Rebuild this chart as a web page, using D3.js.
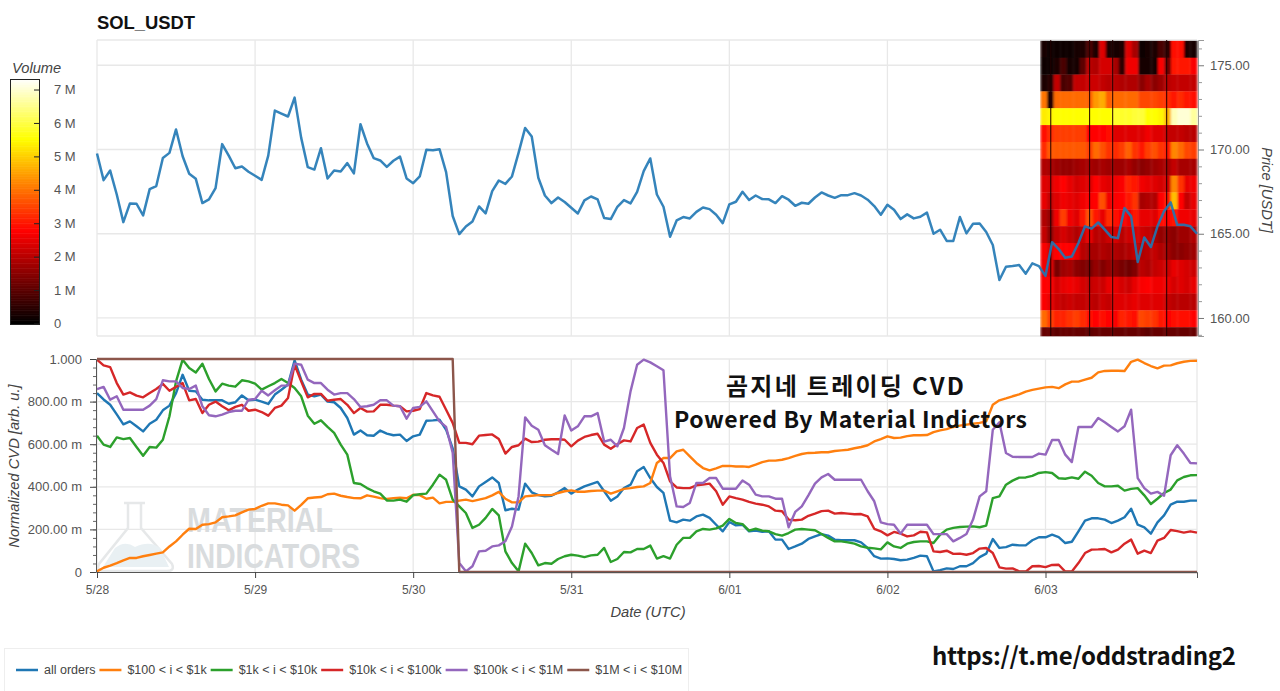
<!DOCTYPE html>
<meta charset="utf-8">
<style>
html, body { margin: 0; padding: 0; background: #fff; }
text { font-family: "Liberation Sans", Arial, sans-serif; }
.tick text { fill: #555; font-size: 13px; }
.label { fill: #444; font-size: 14.7px; font-style: italic; }
.grid line { stroke: #e8e8e8; stroke-width: 1.3; }
.note { font-family: "Noto Sans CJK KR", sans-serif; font-weight: 700; fill: #111; }
.mark { font-family: "Liberation Sans", sans-serif; font-weight: 700; fill: #d9dcde; font-size: 35px; }
</style>
<svg width="1280" height="691"></svg>
<script src="https://d3js.org/d3.v7.min.js"></script>
<script>

var dateLabels = ["5/28", "5/29", "5/30", "5/31", "6/01", "6/02", "6/03"];
var dateHours = [0, 24, 48, 72, 96, 120, 144];
var priceTicks = [160, 165, 170, 175];
var priceMinor = [159, 161, 162, 163, 164, 166, 167, 168, 169, 171, 172, 173, 174, 176];
var cvdTicks = [0, 0.2, 0.4, 0.6, 0.8, 1];
var cvdLabels = ["0", "200.00 m", "400.00 m", "600.00 m", "800.00 m", "1.000"];
var volumeTicks = [0, 1, 2, 3, 4, 5, 6, 7];
var volumeLabels = ["0", "1 M", "2 M", "3 M", "4 M", "5 M", "6 M", "7 M"];

var price = [
  169.76,168.18,168.75,167.33,165.69,166.8,166.78,166.09,167.65,167.83,169.5,169.8,
  171.19,169.6,168.56,168.26,166.82,167.04,167.71,170.32,169.64,168.89,168.99,168.68,
  168.44,168.2,169.64,172.31,172.13,171.96,173.08,170.69,168.95,168.81,170.08,168.28,
  168.75,168.7,169.19,168.58,171.5,170.36,169.49,169.35,168.97,169.33,169.58,168.28,
  168.0,168.4,169.98,169.96,170.02,168.66,166.05,164.98,165.43,165.73,166.62,166.21,
  167.53,168.16,167.96,168.4,169.8,171.28,170.77,168.32,167.27,166.82,167.15,166.88,
  166.54,166.2,166.98,167.21,167.04,165.93,165.87,166.6,167.0,166.8,167.49,168.72,
  169.47,167.33,166.6,164.82,165.79,165.99,165.91,166.3,166.56,166.46,166.13,165.63,
  166.74,166.9,167.49,167.0,167.27,167.06,167.04,166.82,167.23,167.02,166.66,166.84,
  166.78,167.15,167.45,167.27,167.13,167.29,167.29,167.41,167.27,167.02,166.64,166.13,
  166.72,166.42,165.87,166.15,165.91,166.01,166.25,165.0,165.24,164.57,164.57,165.99,
  165.02,165.59,165.61,165.1,164.33,162.25,163.04,163.08,163.14,162.63,163.24,163.08,
  162.5,164.5,164.09,163.57,163.65,164.45,165.44,165.3,165.67,165.24,164.8,164.74,
  166.52,166.03,163.32,164.78,164.21,165.44,166.33,166.86,165.53,165.53,165.44,165.0
];

var allOrders = [
  .84,.81,.785,.74,.693,.707,.684,.66,.696,.715,.759,.781,
  .84,.926,.851,.848,.809,.806,.806,.806,.79,.797,.829,.806,
  .809,.80,.789,.833,.856,.88,.994,.903,.833,.825,.833,.80,
  .797,.77,.723,.645,.664,.642,.64,.664,.65,.642,.645,.615,
  .637,.645,.71,.712,.715,.668,.58,.402,.387,.355,.402,.423,
  .444,.418,.29,.297,.293,.415,.374,.361,.355,.358,.374,.394,
  .368,.387,.402,.413,.423,.379,.335,.355,.394,.41,.473,.493,
  .441,.399,.371,.241,.233,.246,.241,.261,.269,.254,.222,.191,
  .235,.219,.222,.191,.194,.189,.191,.152,.152,.108,.12,.133,
  .155,.167,.178,.171,.152,.149,.149,.149,.139,.113,.074,.063,
  .064,.061,.055,.058,.066,.077,.074,.003,.009,.017,.014,.027,
  .027,.042,.07,.086,.155,.113,.117,.128,.125,.125,.149,.163,
  .163,.175,.164,.136,.142,.191,.241,.252,.252,.246,.23,.241,
  .257,.297,.222,.21,.18,.233,.266,.316,.33,.33,.335,.335
];
var orders100 = [
  .003,.02,.03,.042,.055,.066,.066,.074,.08,.086,.092,.12,
  .144,.175,.203,.202,.222,.225,.233,.257,.261,.266,.28,.293,
  .296,.311,.322,.322,.316,.313,.288,.315,.346,.35,.352,.365,
  .368,.358,.352,.347,.346,.36,.354,.347,.343,.347,.349,.346,
  .363,.361,.344,.349,.322,.329,.33,.335,.34,.333,.34,.347,
  .36,.376,.344,.327,.327,.355,.358,.361,.361,.361,.371,.379,
  .383,.377,.377,.38,.382,.382,.368,.379,.39,.394,.399,.402,
  .418,.512,.535,.535,.566,.574,.543,.512,.488,.477,.487,.498,
  .498,.495,.496,.493,.504,.516,.523,.523,.527,.535,.545,.554,
  .559,.56,.562,.562,.568,.571,.574,.581,.587,.595,.613,.624,
  .637,.629,.631,.638,.642,.642,.643,.657,.665,.671,.681,.687,
  .692,.696,.70,.707,.785,.806,.815,.825,.834,.847,.855,.861,
  .867,.869,.863,.881,.894,.894,.903,.912,.937,.944,.945,.945,
  .944,.987,.997,.981,.967,.956,.969,.97,.98,.987,.991,.992
];
var orders1k = [
  .64,.598,.587,.632,.624,.629,.587,.546,.587,.584,.621,.731,
  .895,.997,.958,.937,.978,.906,.848,.884,.875,.87,.90,.895,
  .884,.856,.872,.887,.906,.887,.864,.825,.734,.696,.712,.681,
  .653,.598,.551,.418,.413,.394,.379,.368,.336,.335,.34,.33,
  .361,.365,.368,.41,.457,.433,.34,.308,.277,.207,.222,.254,
  .296,.266,.097,.042,.003,.133,.089,.031,.042,.039,.061,.074,
  .081,.077,.07,.078,.081,.113,.047,.061,.094,.092,.108,.108,
  .124,.063,.074,.063,.128,.16,.16,.191,.202,.199,.205,.218,
  .249,.23,.225,.194,.203,.194,.191,.178,.171,.183,.199,.202,
  .199,.196,.178,.16,.144,.144,.139,.133,.12,.114,.111,.106,
  .139,.12,.113,.133,.141,.144,.144,.136,.175,.199,.207,.211,
  .213,.214,.21,.218,.347,.355,.41,.429,.443,.444,.451,.465,
  .469,.465,.44,.438,.444,.438,.471,.452,.418,.402,.402,.405,
  .382,.39,.394,.36,.319,.344,.371,.387,.43,.446,.454,.455
];
var orders10k = [
  .997,.97,.962,.887,.833,.843,.828,.82,.84,.859,.883,.851,
  .869,.887,.806,.812,.746,.785,.80,.778,.759,.775,.785,.757,
  .762,.751,.734,.77,.781,.817,.973,.895,.82,.836,.836,.804,
  .809,.812,.785,.746,.77,.753,.754,.785,.785,.781,.778,.754,
  .757,.765,.84,.829,.823,.762,.70,.606,.606,.60,.64,.643,
  .646,.624,.556,.587,.595,.626,.61,.612,.621,.623,.623,.621,
  .59,.617,.634,.643,.649,.598,.579,.60,.618,.613,.676,.692,
  .606,.551,.512,.426,.397,.394,.394,.407,.41,.415,.379,.316,
  .355,.347,.34,.329,.321,.316,.308,.288,.285,.246,.243,.246,
  .264,.274,.286,.288,.274,.277,.274,.271,.272,.261,.203,.191,
  .172,.188,.18,.167,.172,.189,.186,.097,.094,.10,.085,.086,
  .081,.089,.11,.113,.089,.022,.016,.017,.003,.002,.027,.028,
  .023,.033,.034,.002,.002,.042,.089,.105,.106,.108,.092,.105,
  .133,.152,.086,.10,.089,.147,.16,.197,.192,.185,.191,.185
];
var orders100k = [
  .859,.869,.809,.825,.762,.762,.762,.762,.781,.812,.90,.895,
  .895,.864,.859,.875,.778,.736,.731,.739,.751,.757,.757,.809,
  .812,.851,.829,.853,.875,.876,.978,.973,.903,.887,.887,.856,
  .833,.84,.84,.812,.775,.778,.785,.806,.806,.781,.778,.72,
  .77,.775,.801,.754,.707,.681,.56,.042,.003,.027,.097,.10,
  .12,.125,.144,.214,.355,.726,.687,.668,.595,.574,.554,.735,
  .664,.684,.731,.731,.746,.612,.621,.59,.676,.848,.973,.997,
  .984,.966,.947,.449,.308,.305,.324,.418,.418,.441,.441,.391,
  .391,.391,.43,.41,.363,.355,.355,.344,.344,.21,.282,.308,
  .36,.415,.444,.46,.433,.433,.433,.433,.433,.379,.332,.233,
  .225,.222,.18,.222,.222,.222,.222,.178,.178,.178,.144,.16,
  .178,.246,.355,.379,.668,.703,.559,.541,.54,.54,.54,.556,
  .551,.62,.62,.551,.516,.681,.681,.681,.723,.703,.681,.66,
  .684,.762,.441,.394,.368,.376,.358,.548,.595,.556,.512,.51
];
var orders1m = [
  1,1,1,1,1,1,1,1,1,1,1,1,
  1,1,1,1,1,1,1,1,1,1,1,1,
  1,1,1,1,1,1,1,1,1,1,1,1,
  1,1,1,1,1,1,1,1,1,1,1,1,
  1,1,1,1,1,1,1,0,0,0,0,0,
  0,0,0,0,0,0,0,0,0,0,0,0,
  0,0,0,0,0,0,0,0,0,0,0,0,
  0,0,0,0,0,0,0,0,0,0,0,0,
  0,0,0,0,0,0,0,0,0,0,0,0,
  0,0,0,0,0,0,0,0,0,0,0,0,
  0,0,0,0,0,0,0,0,0,0,0,0,
  0,0,0,0,0,0,0,0,0,0,0,0,
  0,0,0,0,0,0,0,0,0,0,0,0,
  0,0,0,0,0,0,0,0,0,0,0,0
];

var seriesNames = ["all orders", "$100 < i < $1k", "$1k < i < $10k", "$10k < i < $100k", "$100k < i < $1M", "$1M < i < $10M"];
var seriesColors = ["#1f77b4", "#ff7f0e", "#2ca02c", "#d62728", "#9467bd", "#8c564b"];
var seriesValues = [allOrders, orders100, orders1k, orders10k, orders100k, orders1m];

// volume per price level (top row first), one value per hour, in millions
var heatPrices = [176,175,174,173,172,171,170,169,168,167,166,165,164,163,162,161,160,159];
var heatColumns = d3.range(24);
var vol176 = [.2,.1,.1,.1,.1,.2,.3,.8,.3,2.4,.3,.2,.3,2.4,1.8,.1,.2,.3,.8,.5,2.9,2.9,.3,.2];
var vol175 = [.1,.1,.3,.8,.2,.2,1.0,2.0,1.9,2.3,2.3,1.8,.5,2.6,2.6,.2,.2,.2,2.7,1.2,3.0,3.0,3.0,2.7];
var vol174 = [.3,.4,2.1,.8,.9,2.1,2.1,2.2,2.2,2.1,2.0,2.0,1.9,1.9,1.9,1.5,1.8,1.5,1.7,2.0,2.1,2.1,2.1,2.1];
var vol173 = [4.0,.3,3.9,3.9,3.9,3.9,3.9,3.8,4.4,4.6,3.8,3.9,3.9,3.9,3.9,3.5,3.5,3.5,3.4,3.2,3.0,3.2,3.0,2.9];
var vol172 = [5.3,5.4,5.5,5.5,5.5,5.5,5.5,5.5,5.5,5.5,5.5,5.8,5.8,5.8,5.9,5.9,5.5,5.5,5.4,4.7,6.8,7.0,7.0,6.6];
var vol171 = [2.9,3.2,3.4,3.4,3.4,3.4,3.4,2.8,2.8,2.8,2.9,2.4,2.4,2.4,2.4,2.4,2.6,2.4,2.4,2.1,2.1,2.1,2.0,2.0];
var vol170 = [3.2,3.7,3.7,3.7,3.7,3.7,3.7,3.4,3.9,3.6,3.3,3.2,3.4,3.8,3.3,3.0,3.4,3.6,3.3,3.0,4.2,3.9,3.5,3.4];
var vol169 = [1.9,1.8,1.7,1.6,1.6,1.7,1.8,1.8,1.7,1.8,1.7,1.7,1.7,1.8,1.6,1.5,1.6,1.7,1.8,1.8,2.1,1.8,1.8,1.8];
var vol168 = [2.4,2.3,2.6,2.8,2.5,2.3,2.4,2.4,2.8,2.5,2.4,2.6,2.7,3.1,3.0,2.6,2.5,2.4,2.3,2.3,4.2,3.3,2.5,2.6];
var vol167 = [2.5,2.1,2.4,2.6,2.5,2.4,2.6,2.7,2.8,3.6,2.6,2.7,2.8,3.0,3.3,1.8,1.9,1.9,2.8,3.0,4.8,2.8,2.1,2.5];
var vol166 = [1.9,1.6,2.6,3.4,2.6,2.4,3.0,3.6,3.0,2.5,3.2,2.9,2.7,2.6,3.0,2.5,2.5,2.4,2.9,2.8,3.0,2.6,2.6,2.5];
var vol165 = [2.1,1.5,2.1,2.3,2.1,1.9,2.2,2.5,2.0,2.0,2.2,2.3,2.0,2.2,2.3,2.2,2.1,1.8,1.6,1.6,1.5,1.7,1.7,1.9];
var vol164 = [2.7,2.3,2.8,2.8,2.8,2.5,2.0,1.8,1.8,1.9,1.8,1.9,1.8,1.9,2.1,1.9,2.0,2.1,1.9,1.7,1.5,1.5,1.6,1.7];
var vol163 = [2.6,2.4,1.3,1.7,1.8,1.5,1.4,1.3,1.6,1.4,1.6,1.5,1.3,1.2,1.4,2.0,1.9,2.1,2.2,2.2,2.5,2.4,2.3,2.2];
var vol162 = [2.8,2.7,2.3,2.5,2.6,2.5,2.3,2.1,2.2,2.2,2.5,2.5,2.3,2.2,2.5,2.7,2.8,2.6,2.6,2.5,2.3,2.4,2.3,2.5];
var vol161 = [2.7,2.5,2.2,2.1,2.2,2.1,2.1,2.1,2.0,2.2,2.1,2.4,2.4,2.4,2.5,2.4,2.4,2.4,2.4,2.1,2.0,2.0,2.0,2.0];
var vol160 = [3.9,3.4,3.1,3.1,3.3,3.4,3.2,2.9,2.8,2.9,2.8,2.7,3.1,3.0,2.9,3.5,3.4,3.3,3.0,2.8,2.9,2.9,2.9,2.8];
var vol159 = [1.1,1.1,1.0,1.1,1.1,1.1,1.1,1.0,1.1,1.1,1.1,1.1,1.1,1.1,1.1,1.1,1.0,1.1,1.1,1.1,1.1,1.1,1.1,1.1];
var heatRows = [vol176,vol175,vol174,vol173,vol172,vol171,vol170,vol169,vol168,vol167,vol166,vol165,vol164,vol163,vol162,vol161,vol160,vol159];
// hours where the volume profile has an empty slice
var gapHours = [144.8, 150.7, 154.2, 162.4];

var svg = d3.select("svg");

var x = d3.scaleLinear().domain([0, 167]).range([97, 1197]);
var yPrice = d3.scaleLinear().domain([158.93, 176.5]).range([336, 40]);
var yCvd = d3.scaleLinear().domain([0, 1]).range([572, 359]);
var heat = d3.scaleLinear().domain([0, 2.75, 5.5, 7.3]).range(["#000000", "#ff0000", "#ffff00", "#ffffff"]);
var heatX = d3.scaleBand().domain(heatColumns).range([x(143.25), x(167)]);

// the picture of the volume profile is soft, so blur the cells a little
var defs = svg.append("defs");
defs.append("filter").attr("id", "soft").attr("x", "0").attr("y", "0").attr("width", "1").attr("height", "1")
  .append("feGaussianBlur").attr("stdDeviation", "0.9 0.35");
defs.append("clipPath").attr("id", "heatClip").append("rect")
    .attr("x", x(143.25)).attr("y", 40).attr("width", x(167) - x(143.25)).attr("height", 296);

function frame(y0, y1) {
  var g = svg.append("g").attr("class", "grid");
  g.selectAll("line.v").data(dateHours).enter().append("line").attr("class", "v")
      .attr("x1", function(d) { return x(d); }).attr("x2", function(d) { return x(d); })
      .attr("y1", y0).attr("y2", y1);
  g.append("line").attr("x1", x(0)).attr("x2", x(167)).attr("y1", y0).attr("y2", y0);
  g.append("line").attr("x1", x(167)).attr("x2", x(167)).attr("y1", y0).attr("y2", y1);
  return g;
}

// ---- top plot
var topGrid = frame(40, 336);
topGrid.append("line").attr("x1", x(0)).attr("x2", x(167)).attr("y1", 336).attr("y2", 336);
topGrid.selectAll("line.h").data(priceTicks).enter().append("line").attr("class", "h")
    .attr("x1", x(0)).attr("x2", x(167))
    .attr("y1", function(d) { return yPrice(d); }).attr("y2", function(d) { return yPrice(d); });

var heatGroup = svg.append("g").attr("filter", "url(#soft)");
heatRows.forEach(function(row, r) {
  var top = yPrice(heatPrices[r] + 0.45);
  var bottom = Math.min(yPrice(heatPrices[r] - 0.55), 336);
  heatGroup.append("g").selectAll("rect").data(row).enter().append("rect")
      .attr("x", function(d, i) { return heatX(i); })
      .attr("width", heatX.bandwidth() + 0.3)
      .attr("y", top)
      .attr("height", bottom - top + 0.3)
      .attr("fill", function(d) { return heat(d); });
});
svg.append("g").selectAll("line").data(gapHours).enter().append("line")
    .attr("x1", function(d) { return x(d); }).attr("x2", function(d) { return x(d); })
    .attr("y1", 40).attr("y2", 336)
    .attr("stroke", "#200").attr("stroke-width", 1);

svg.append("path").datum(price)
    .attr("fill", "none").attr("stroke", "#1f77b4").attr("stroke-width", 2.5).attr("stroke-opacity", 0.9)
    .attr("stroke-linejoin", "round")
    .attr("d", d3.line().x(function(d, i) { return x(i); }).y(function(d) { return yPrice(d); }));

var priceAxis = svg.append("g").attr("transform", "translate(1198,0)")
    .call(d3.axisRight(yPrice).tickValues(priceTicks).tickFormat(d3.format(".2f")).tickSize(6).tickPadding(6));
priceAxis.select(".domain").attr("stroke", "#999");
priceAxis.selectAll(".tick line").attr("stroke", "#777");
var priceMinorAxis = svg.append("g").attr("transform", "translate(1198,0)")
    .call(d3.axisRight(yPrice).tickValues(priceMinor).tickFormat("").tickSize(4));
priceMinorAxis.select(".domain").remove();
priceMinorAxis.selectAll(".tick line").attr("stroke", "#999");

svg.append("text").attr("class", "label")
    .attr("transform", "translate(1262,190) rotate(90)")
    .attr("text-anchor", "middle").text("Price [USDT]");

svg.append("text").attr("x", 97).attr("y", 29)
    .style("font-weight", "bold").style("font-size", "18.4px").attr("fill", "#111").text("SOL_USDT");

// ---- colour bar
var yVol = d3.scaleLinear().domain([0, 7.3]).range([323.5, 79.5]);
var barSteps = d3.range(0, 7.3, 0.05);
svg.append("g").selectAll("rect").data(barSteps).enter().append("rect")
    .attr("x", 10.5).attr("width", 29)
    .attr("y", function(d) { return yVol(d + 0.05); })
    .attr("height", function(d) { return yVol(d) - yVol(d + 0.05) + 0.5; })
    .attr("fill", function(d) { return heat(d); });
svg.append("rect").attr("x", 10.5).attr("y", 79.5).attr("width", 29).attr("height", 245)
    .attr("fill", "none").attr("stroke", "#222");
var volAxis = svg.append("g").attr("transform", "translate(40,0)")
    .call(d3.axisLeft(yVol).tickValues(volumeTicks).tickSize(6)
      .tickFormat(function(d, i) { return volumeLabels[i]; }));
volAxis.select(".domain").remove();
volAxis.selectAll(".tick line").attr("stroke", "#222");
volAxis.selectAll(".tick text").attr("x", 14).attr("text-anchor", "start");
svg.append("text").attr("class", "label").attr("x", 12).attr("y", 73).text("Volume");

// ---- bottom plot
var botGrid = frame(359, 572);
botGrid.selectAll("line.h").data(cvdTicks.slice(1, 5)).enter().append("line").attr("class", "h")
    .attr("x1", x(0)).attr("x2", x(167))
    .attr("y1", function(d) { return yCvd(d); }).attr("y2", function(d) { return yCvd(d); });

// watermark sits under the lines
svg.append("path")
    .attr("d", "M124,503H145M128,503V528L99,564Q96,571 104,571H167Q175,571 172,564L141,528V503")
    .attr("fill", "none").attr("stroke", "#e6e8e9").attr("stroke-width", 2.5);
svg.append("path")
    .attr("d", "M103,567L115,548Q125,540 135,547Q150,540 160,548L169,567Z")
    .attr("fill", "#e9f0f3");
svg.append("text").attr("class", "mark").attr("x", 187).attr("y", 532)
    .attr("textLength", 146).attr("lengthAdjust", "spacingAndGlyphs").text("MATERIAL");
svg.append("text").attr("class", "mark").attr("x", 187).attr("y", 568)
    .attr("textLength", 173).attr("lengthAdjust", "spacingAndGlyphs").text("INDICATORS");

svg.append("g").selectAll("path").data(seriesValues).enter().append("path")
    .attr("fill", "none").attr("stroke-width", 2.4).attr("stroke-linejoin", "round")
    .attr("stroke", function(d, i) { return seriesColors[i]; })
    .attr("d", d3.line().x(function(d, i) { return x(i); }).y(function(d) { return yCvd(d); }));

var cvdAxis = svg.append("g").attr("transform", "translate(96,0)")
    .call(d3.axisLeft(yCvd).tickValues(cvdTicks).tickSize(6).tickPadding(8)
      .tickFormat(function(d, i) { return cvdLabels[i]; }));
cvdAxis.select(".domain").attr("stroke", "#555");
cvdAxis.selectAll(".tick line").attr("stroke", "#444");
var cvdMinor = d3.range(0.04, 1, 0.04);
svg.append("g").attr("transform", "translate(96,0)")
    .call(d3.axisLeft(yCvd).tickValues(cvdMinor).tickFormat("").tickSize(3))
    .call(function(g) { g.select(".domain").remove(); })
    .selectAll(".tick line").attr("stroke", "#666");

var dateAxis = svg.append("g").attr("transform", "translate(0,572)")
    .call(d3.axisBottom(x).tickValues(dateHours).tickSize(6).tickPadding(7)
      .tickFormat(function(d, i) { return dateLabels[i]; }));
dateAxis.select(".domain").attr("stroke", "#555");
dateAxis.selectAll(".tick text").style("font-size", "12px");
dateAxis.selectAll(".tick line").attr("stroke", "#444");

svg.append("text").attr("class", "label")
    .attr("transform", "translate(19,466) rotate(-90)")
    .attr("text-anchor", "middle").text("Normalized CVD [arb. u.]");
svg.append("text").attr("class", "label").attr("x", 648).attr("y", 617)
    .attr("text-anchor", "middle").text("Date (UTC)");

// ---- notes on top of the picture
svg.append("text").attr("class", "note").attr("x", 726).attr("y", 395)
    .attr("textLength", 238).style("font-size", "24px").text("곰지네 트레이딩 CVD");
svg.append("text").attr("class", "note").attr("x", 674).attr("y", 428)
    .attr("textLength", 353).style("font-size", "23px").text("Powered By Material Indictors");
svg.append("text").attr("class", "note").attr("x", 932).attr("y", 665)
    .attr("textLength", 304).style("font-size", "24px").text("https://t.me/oddstrading2");

// ---- legend
svg.append("rect").attr("x", 4.5).attr("y", 648.5).attr("width", 684).attr("height", 50)
    .attr("fill", "#fff").attr("stroke", "#eee");
var legendX = 16;
seriesNames.forEach(function(name, i) {
  svg.append("line").attr("x1", legendX).attr("x2", legendX + 22).attr("y1", 670).attr("y2", 670)
      .attr("stroke", seriesColors[i]).attr("stroke-width", 2.5);
  var t = svg.append("text").attr("x", legendX + 28).attr("y", 674)
      .attr("fill", "#444").style("font-size", "12.5px").text(name);
  legendX += 28 + t.node().getComputedTextLength() + 4;
});

</script>
